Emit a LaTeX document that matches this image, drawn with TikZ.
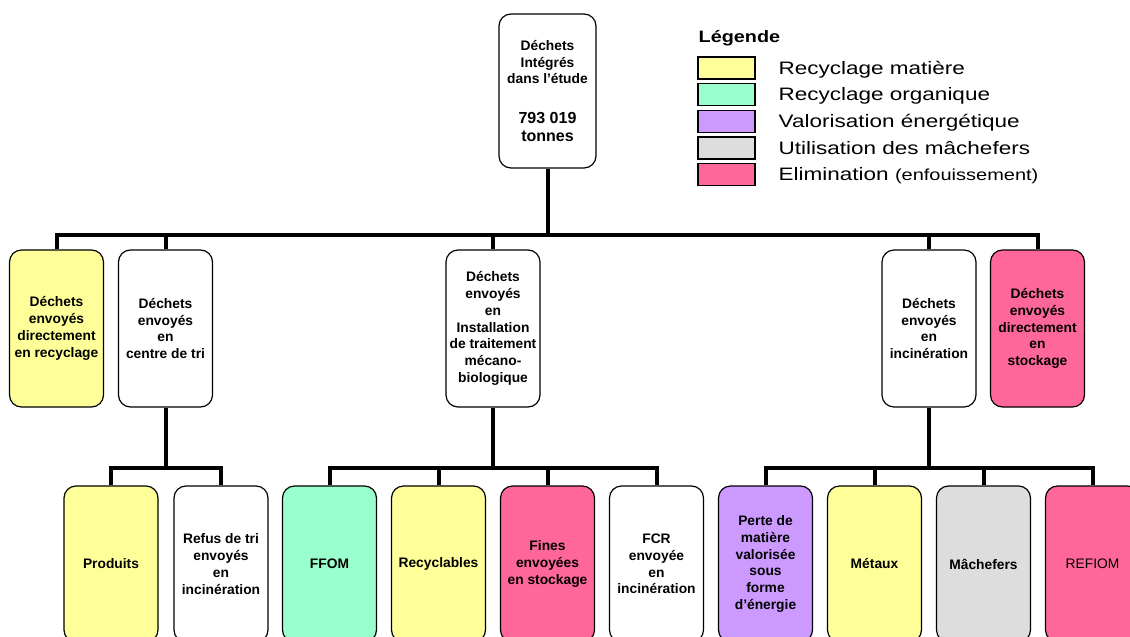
\documentclass[tikz,border=0pt]{standalone}
\usepackage{fontspec}
\setmainfont{Liberation Sans}
\usepackage{graphicx}
\definecolor{yel}{HTML}{FFFF99}
\definecolor{grn}{HTML}{99FFCC}
\definecolor{pur}{HTML}{CC99FF}
\definecolor{gry}{HTML}{DDDDDD}
\definecolor{pnk}{HTML}{FF6699}
\tikzset{
  box/.style={draw, line width=1.2pt, rounded corners=12pt, fill=white,
    minimum width=94pt, inner sep=0pt, align=center,
    font=\fontsize{13.8}{16.8}\selectfont\bfseries},
  rowtwo/.style={box, minimum height=157pt},
  rowthree/.style={box, minimum height=156pt},
  conn/.style={line width=4pt},
  legsq/.style={draw, line width=1.2pt, minimum width=57pt, minimum height=22pt, inner sep=0pt},
  legtxt/.style={anchor=base west, inner sep=0pt, font=\fontsize{18}{20}\selectfont}
}
\begin{document}
\begin{tikzpicture}[x=1pt,y=-1pt]
\useasboundingbox (0,0) rectangle (1130,637);
\clip (0,0) rectangle (1130,637);
\fill[white] (0,0) rectangle (1130,637);

% top node
\node[box, minimum width=97pt, minimum height=154pt] (top) at (547.5,91)
  {Déchets\\Intégrés\\dans l’étude\\[23pt]{\fontsize{16}{17.5}\selectfont 793 019}\\[1pt]{\fontsize{16}{17.5}\selectfont tonnes}};

% row 2
\node[rowtwo, fill=yel] (a) at (56.5,328.5) {Déchets\\envoyés\\directement\\en recyclage};
\node[rowtwo] (b) at (165.5,328.5) {Déchets\\envoyés\\en\\centre de tri};
\node[rowtwo] (c) at (493,328.5) {Déchets\\envoyés\\en\\Installation\\de traitement\\mécano-\\biologique};
\node[rowtwo] (d) at (929,328.5) {Déchets\\envoyés\\en\\incinération};
\node[rowtwo, fill=pnk] (e) at (1037.5,328.5) {Déchets\\envoyés\\directement\\en\\stockage};

% row 3
\node[rowthree, fill=yel] (p1) at (111,564) {Produits};
\node[rowthree] (p2) at (221,564) {Refus de tri\\envoyés\\en\\incinération};
\node[rowthree, fill=grn] (c1) at (329.5,564) {FFOM};
\node[rowthree, fill=yel] (c2) at (438.5,564) {Recyclables};
\node[rowthree, fill=pnk] (c3) at (547.5,564) {Fines\\envoyées\\en stockage};
\node[rowthree] (c4) at (656.5,564) {FCR\\envoyée\\en\\incinération};
\node[rowthree, fill=pur] (d1) at (765.5,564) {Perte de\\matière\\valorisée\\sous\\forme\\d’énergie};
\node[rowthree, fill=yel] (d2) at (874.5,564) {Métaux};
\node[rowthree, fill=gry] (d3) at (983.5,564) {Mâchefers};
\node[rowthree, fill=pnk] (d4) at (1092.5,564) {\mdseries REFIOM};

% buses
\coordinate (bus1) at (547.5,235);
\coordinate (bus2) at (165.5,468);
\coordinate (bus3) at (493,468);
\coordinate (bus4) at (929,468);

\draw[conn] (top.south) -- (bus1);
\draw[conn] (a.north) -- (a.north |- bus1) -- (e.north |- bus1) -- (e.north);
\draw[conn] (b.north) -- (b.north |- bus1);
\draw[conn] (c.north) -- (c.north |- bus1);
\draw[conn] (d.north) -- (d.north |- bus1);

\draw[conn] (b.south) -- (bus2);
\draw[conn] (p1.north) -- (p1.north |- bus2) -- (p2.north |- bus2) -- (p2.north);

\draw[conn] (c.south) -- (bus3);
\draw[conn] (c1.north) -- (c1.north |- bus3) -- (c4.north |- bus3) -- (c4.north);
\draw[conn] (c2.north) -- (c2.north |- bus3);
\draw[conn] (c3.north) -- (c3.north |- bus3);

\draw[conn] (d.south) -- (bus4);
\draw[conn] (d1.north) -- (d1.north |- bus4) -- (d4.north |- bus4) -- (d4.north);
\draw[conn] (d2.north) -- (d2.north |- bus4);
\draw[conn] (d3.north) -- (d3.north |- bus4);

% legend
\node[anchor=base west, inner sep=0pt, font=\fontsize{16.5}{18}\selectfont\bfseries] (legt) at (698.5,42) {\scalebox{1.2}[1]{Légende}};
\node[legsq, fill=yel] (l1) at (726.5,68) {};
\node[legsq, fill=grn] (l2) at (726.5,94.7) {};
\node[legsq, fill=pur] (l3) at (726.5,121.3) {};
\node[legsq, fill=gry] (l4) at (726.5,148) {};
\node[legsq, fill=pnk] (l5) at (726.5,174.7) {};
\node[legtxt] (t1) at (778.5,74) {\scalebox{1.25}[1]{Recyclage matière}};
\node[legtxt] (t2) at (778.5,100.7) {\scalebox{1.25}[1]{Recyclage organique}};
\node[legtxt] (t3) at (778.5,127.3) {\scalebox{1.25}[1]{Valorisation énergétique}};
\node[legtxt] (t4) at (778.5,154) {\scalebox{1.25}[1]{Utilisation des mâchefers}};
\node[legtxt] (t5) at (778.5,180.7) {\scalebox{1.25}[1]{Elimination {\fontsize{16}{18}\selectfont(enfouissement)}}};
\end{tikzpicture}
\end{document}
